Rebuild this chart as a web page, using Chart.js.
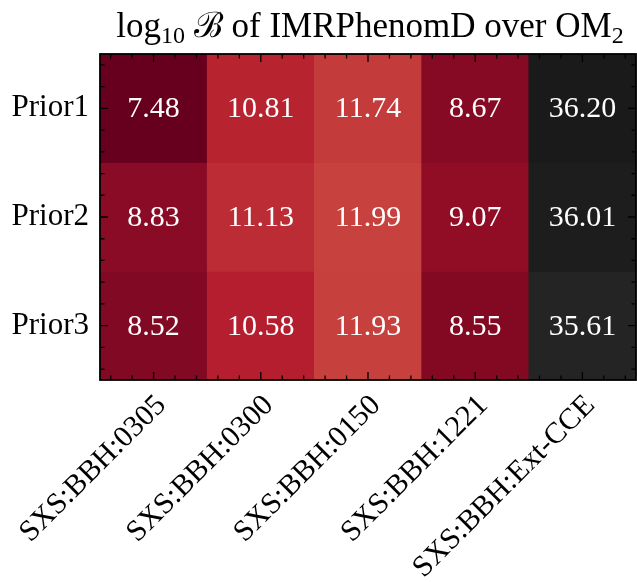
<!DOCTYPE html>
<html>
<head>
<meta charset="utf-8">
<script src="https://cdn.jsdelivr.net/npm/chart.js@4"></script>
<style>
  html, body { margin: 0; padding: 0; background: #fff; }
  #wrap { width: 637px; height: 582px; }
</style>
</head>
<body>
<div id="wrap"><canvas id="heatChart"></canvas></div>
<script>
const priors = ["Prior1", "Prior2", "Prior3"];
const simulations = ["SXS:BBH:0305", "SXS:BBH:0300", "SXS:BBH:0150", "SXS:BBH:1221", "SXS:BBH:Ext-CCE"];
const prior1Values = [7.48, 10.81, 11.74, 8.67, 36.20];
const prior2Values = [8.83, 11.13, 11.99, 9.07, 36.01];
const prior3Values = [8.52, 10.58, 11.93, 8.55, 35.61];

const serif = "'Liberation Serif', 'DejaVu Serif', serif";

// RdGy colormap stops
const rdgy = ["#67001f", "#b2182b", "#d6604d", "#f4a582", "#fddbc7", "#ffffff",
              "#e0e0e0", "#bababa", "#878787", "#4d4d4d", "#1a1a1a"];

function hexToRgb(h) {
  return [parseInt(h.slice(1, 3), 16), parseInt(h.slice(3, 5), 16), parseInt(h.slice(5, 7), 16)];
}

function cmap(t) {
  t = Math.max(0, Math.min(1, t));
  const pos = t * (rdgy.length - 1);
  const i = Math.min(Math.floor(pos), rdgy.length - 2);
  const f = pos - i;
  const a = hexToRgb(rdgy[i]), b = hexToRgb(rdgy[i + 1]);
  const c = a.map((v, k) => Math.round(v + (b[k] - v) * f));
  return `rgb(${c[0]}, ${c[1]}, ${c[2]})`;
}

const rows = [prior1Values, prior2Values, prior3Values];
const allValues = rows.flat();
const vmin = Math.min(...allValues);
const vmax = Math.max(...allValues);

// cell text + frame + inward ticks on all sides
const heatDecor = {
  id: "heatDecor",
  afterDatasetsDraw(chart) {
    const ctx = chart.ctx;
    ctx.save();
    ctx.fillStyle = "#fff";
    ctx.font = `30px ${serif}`;
    ctx.textAlign = "center";
    ctx.textBaseline = "middle";
    chart.data.datasets.forEach((ds, r) => {
      chart.getDatasetMeta(r).data.forEach((bar, i) => {
        ctx.fillText(ds.values[i].toFixed(2), bar.x, (bar.y + bar.base) / 2 + 1);
      });
    });
    ctx.restore();
  },
  afterDraw(chart) {
    const ctx = chart.ctx;
    const { left, right, top, bottom } = chart.chartArea;
    const xs = chart.scales.x, ys = chart.scales.y;
    ctx.save();
    ctx.strokeStyle = "#000";
    ctx.lineWidth = 1.3;
    ctx.beginPath();
    for (let k = -4; k <= 44; k += 2) {
      const px = xs.getPixelForValue(k / 10);
      const len = k % 10 === 0 ? 8 : 4.5;
      ctx.moveTo(px, bottom); ctx.lineTo(px, bottom - len);
      ctx.moveTo(px, top); ctx.lineTo(px, top + len);
    }
    for (let k = 1; k <= 29; k += 2) {
      const py = ys.getPixelForValue(k / 10);
      const len = (k - 5) % 10 === 0 ? 8 : 4.5;
      ctx.moveTo(left, py); ctx.lineTo(left + len, py);
      ctx.moveTo(right, py); ctx.lineTo(right - len, py);
    }
    ctx.stroke();
    ctx.lineWidth = 1.8;
    ctx.strokeRect(left, top, right - left, bottom - top);

    // title: log10 B of IMRPhenomD over OM2
    const parts = [
      { t: "log", size: 35, dy: 0 },
      { t: "10", size: 24, dy: 6 },
      { t: " ", size: 35, dy: 0 },
      { t: "\u212C", size: 35, dy: 0 },
      { t: " of IMRPhenomD over OM", size: 35, dy: 0 },
      { t: "2", size: 24, dy: 6 }
    ];
    let total = 0;
    parts.forEach(p => {
      ctx.font = `${p.size}px ${serif}`;
      p.w = ctx.measureText(p.t).width;
      total += p.w;
    });
    let x = (left + right) / 2 - total / 2 + 2;
    const baseline = 37;
    ctx.fillStyle = "#000";
    ctx.textAlign = "left";
    ctx.textBaseline = "alphabetic";
    parts.forEach(p => {
      ctx.font = `${p.size}px ${serif}`;
      ctx.fillText(p.t, x, baseline + p.dy);
      x += p.w;
    });
    ctx.restore();
  }
};

new Chart(document.getElementById("heatChart"), {
  type: "bar",
  data: {
    labels: simulations,
    datasets: rows.map((vals, r) => ({
      label: priors[r],
      data: vals.map(() => [r, r + 1]),
      values: vals,
      backgroundColor: vals.map(v => cmap((v - vmin) / (vmax - vmin))),
      borderWidth: 0,
      grouped: false,
      barPercentage: 1,
      categoryPercentage: 1
    }))
  },
  options: {
    responsive: true,
    maintainAspectRatio: false,
    animation: false,
    layout: { padding: { top: 54, right: 1, left: 0, bottom: 0 } },
    plugins: {
      legend: { display: false },
      tooltip: { enabled: false },
      title: { display: false }
    },
    scales: {
      x: {
        type: "category",
        offset: true,
        grid: { display: false },
        border: { display: false },
        ticks: {
          color: "#000",
          font: { family: serif, size: 30 },
          minRotation: 45,
          maxRotation: 45,
          autoSkip: false,
          padding: 0,
          labelOffset: 8
        },
        afterFit(scale) { scale.height = 202; }
      },
      y: {
        type: "linear",
        min: 0,
        max: 3,
        reverse: true,
        grid: { display: false },
        border: { display: false },
        afterBuildTicks(scale) {
          scale.ticks = [0.5, 1.5, 2.5].map(v => ({ value: v }));
        },
        ticks: {
          color: "#000",
          font: { family: serif, size: 31 },
          padding: 3,
          callback: v => priors[Math.round(v - 0.5)]
        },
        afterFit(scale) { scale.width = 100; }
      }
    }
  },
  plugins: [heatDecor]
});
</script>
</body>
</html>
